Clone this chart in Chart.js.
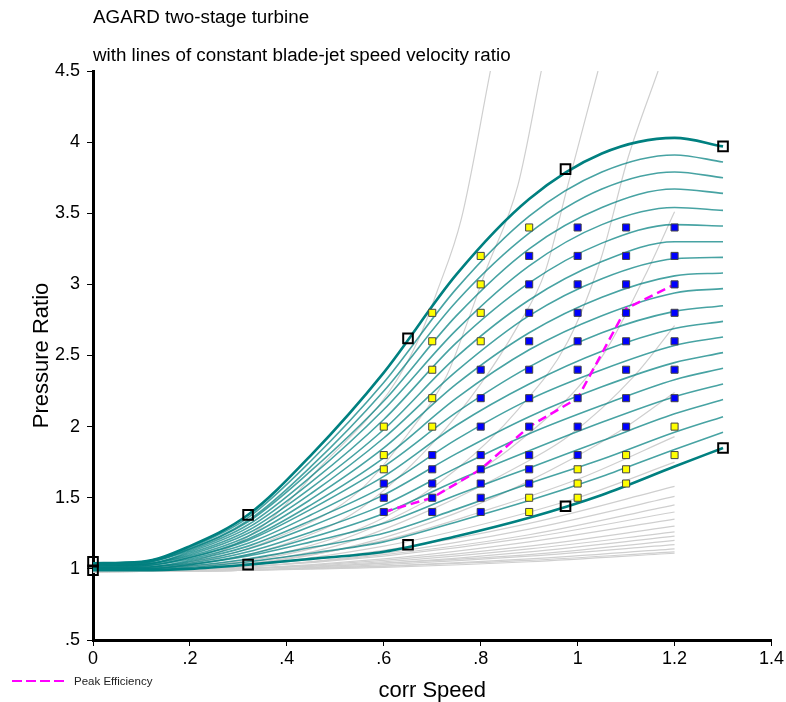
<!DOCTYPE html>
<html>
<head>
<meta charset="utf-8">
<title>AGARD two-stage turbine</title>
<script src="https://cdn.jsdelivr.net/npm/chart.js@4.4.1/dist/chart.umd.min.js"></script>
<style>
  html, body { margin: 0; padding: 0; background: #fff; }
  #turbineMap { display: block; }
</style>
</head>
<body>
<canvas id="turbineMap" width="786" height="702"></canvas>
<script>
// corr speed positions shared by the teal map lines
const speedGrid = [0, 0.1, 0.2, 0.32, 0.45, 0.6, 0.75, 0.9, 1.05, 1.2, 1.3];

// outer map limits
const upperLine = [1.04, 1.05, 1.16, 1.38, 1.80, 2.38, 3.07, 3.60, 3.92, 4.03, 3.97];
const lowerLine = [0.99, 0.99, 1.00, 1.03, 1.07, 1.12, 1.23, 1.36, 1.52, 1.72, 1.85];

// lines in between, top to bottom
const mapLines = [
  [1.04, 1.05, 1.15, 1.36, 1.76, 2.31, 2.97, 3.48, 3.79, 3.91, 3.86],
  [1.03, 1.04, 1.14, 1.34, 1.72, 2.25, 2.88, 3.36, 3.67, 3.79, 3.75],
  [1.03, 1.04, 1.14, 1.33, 1.69, 2.18, 2.78, 3.25, 3.54, 3.67, 3.64],
  [1.03, 1.04, 1.13, 1.31, 1.65, 2.12, 2.68, 3.13, 3.42, 3.54, 3.52],
  [1.03, 1.03, 1.12, 1.29, 1.61, 2.05, 2.59, 3.01, 3.29, 3.42, 3.41],
  [1.02, 1.03, 1.11, 1.27, 1.57, 1.98, 2.49, 2.89, 3.16, 3.30, 3.30],
  [1.02, 1.03, 1.10, 1.25, 1.53, 1.92, 2.39, 2.78, 3.04, 3.18, 3.19],
  [1.02, 1.03, 1.09, 1.23, 1.49, 1.85, 2.30, 2.66, 2.91, 3.06, 3.08],
  [1.02, 1.02, 1.08, 1.21, 1.45, 1.78, 2.20, 2.54, 2.78, 2.94, 2.97],
  [1.01, 1.02, 1.08, 1.20, 1.42, 1.72, 2.10, 2.42, 2.66, 2.81, 2.85],
  [1.01, 1.02, 1.07, 1.18, 1.38, 1.65, 2.01, 2.30, 2.53, 2.69, 2.74],
  [1.01, 1.01, 1.06, 1.16, 1.34, 1.58, 1.91, 2.19, 2.40, 2.57, 2.63],
  [1.01, 1.01, 1.05, 1.14, 1.30, 1.52, 1.81, 2.07, 2.28, 2.45, 2.52],
  [1.00, 1.01, 1.04, 1.12, 1.26, 1.45, 1.71, 1.95, 2.15, 2.33, 2.41],
  [1.00, 1.00, 1.03, 1.10, 1.22, 1.39, 1.62, 1.83, 2.03, 2.21, 2.30],
  [1.00, 1.00, 1.03, 1.09, 1.19, 1.32, 1.52, 1.71, 1.90, 2.09, 2.19],
  [1.00, 1.00, 1.02, 1.07, 1.15, 1.25, 1.42, 1.60, 1.77, 1.96, 2.07],
  [0.99, 0.99, 1.01, 1.05, 1.11, 1.19, 1.33, 1.48, 1.65, 1.84, 1.96]
];

// lines of constant blade-jet speed velocity ratio, [speed, pressure ratio]
const ratioLines = [
  [[0, 1.0], [0.2, 1.05], [0.35, 1.3], [0.47, 1.72], [0.61, 2.24], [0.67, 2.6], [0.71, 2.95], [0.76, 3.46], [0.82, 4.5]],
  [[0, 1.0], [0.2, 1.04], [0.4, 1.25], [0.55, 1.55], [0.65, 1.95], [0.73, 2.36], [0.77, 2.71], [0.81, 3.09], [0.877, 3.7], [0.925, 4.5]],
  [[0, 1.0], [0.2, 1.03], [0.4, 1.18], [0.55, 1.42], [0.7, 1.88], [0.8, 2.3], [0.877, 2.71], [0.933, 3.09], [0.98, 3.7], [1.042, 4.5]],
  [[0, 1.0], [0.2, 1.02], [0.4, 1.12], [0.6, 1.36], [0.75, 1.7], [0.877, 2.12], [0.98, 2.6], [1.048, 3.18], [1.104, 3.89], [1.166, 4.5]],
  [[0, 1.0], [0.3, 1.05], [0.5, 1.19], [0.7, 1.5], [0.877, 1.89], [1.048, 2.48], [1.139, 3.06], [1.2, 3.51]],
  [[0, 1.0], [0.3, 1.04], [0.5, 1.16], [0.7, 1.42], [0.877, 1.72], [0.98, 1.93], [1.118, 2.36], [1.2, 2.71]],
  [[0, 1.0], [0.3, 1.03], [0.5, 1.13], [0.7, 1.33], [0.877, 1.58], [1.083, 1.96], [1.2, 2.24]],
  [[0, 0.99], [0.3, 1.03], [0.6, 1.2], [0.8, 1.4], [1.0, 1.63], [1.2, 1.93]],
  [[0, 0.99], [0.3, 1.02], [0.6, 1.16], [0.8, 1.31], [1.0, 1.5], [1.2, 1.75]]
];

// low-pressure fan of the same lines below the map
const fanSpeed = [0, 0.3, 0.6, 0.9, 1.2];
const fanLines = [
  [0.98, 1.02, 1.13, 1.32, 1.58],
  [0.98, 1.01, 1.11, 1.28, 1.51],
  [0.98, 1.01, 1.10, 1.24, 1.45],
  [0.98, 1.01, 1.09, 1.22, 1.40],
  [0.98, 1.00, 1.07, 1.19, 1.35],
  [0.98, 1.00, 1.06, 1.16, 1.30],
  [0.98, 1.00, 1.05, 1.14, 1.26],
  [0.98, 1.00, 1.04, 1.12, 1.23],
  [0.98, 0.99, 1.04, 1.10, 1.20],
  [0.98, 0.99, 1.03, 1.09, 1.17],
  [0.98, 0.99, 1.02, 1.07, 1.14],
  [0.98, 0.99, 1.02, 1.06, 1.12],
  [0.98, 0.99, 1.01, 1.05, 1.11]
];

// measured map points
const yellowSpeed = [0.6, 0.6, 0.6, 0.7, 0.7, 0.7, 0.7, 0.7, 0.8, 0.8, 0.8, 0.8, 0.9, 0.9, 0.9, 1.0, 1.0, 1.0, 1.1, 1.1, 1.1, 1.2, 1.2];
const yellowPR    = [2.0, 1.8, 1.7, 2.8, 2.6, 2.4, 2.2, 2.0, 3.2, 3.0, 2.8, 2.6, 3.4, 1.5, 1.4, 1.7, 1.6, 1.5, 1.8, 1.7, 1.6, 2.0, 1.8];
const blueSpeed = [0.6, 0.6, 0.6,
  0.7, 0.7, 0.7, 0.7, 0.7,
  0.8, 0.8, 0.8, 0.8, 0.8, 0.8, 0.8, 0.8,
  0.9, 0.9, 0.9, 0.9, 0.9, 0.9, 0.9, 0.9, 0.9, 0.9,
  1.0, 1.0, 1.0, 1.0, 1.0, 1.0, 1.0, 1.0, 1.0,
  1.1, 1.1, 1.1, 1.1, 1.1, 1.1, 1.1, 1.1,
  1.2, 1.2, 1.2, 1.2, 1.2, 1.2, 1.2];
const bluePR = [1.6, 1.5, 1.4,
  1.8, 1.7, 1.6, 1.5, 1.4,
  2.4, 2.2, 2.0, 1.8, 1.7, 1.6, 1.5, 1.4,
  3.2, 3.0, 2.8, 2.6, 2.4, 2.2, 2.0, 1.8, 1.7, 1.6,
  3.4, 3.2, 3.0, 2.8, 2.6, 2.4, 2.2, 2.0, 1.8,
  3.4, 3.2, 3.0, 2.8, 2.6, 2.4, 2.2, 2.0,
  3.4, 3.2, 3.0, 2.8, 2.6, 2.4, 2.2];

// corner points of the map
const limitSpeed = [0, 0.32, 0.65, 0.975, 1.3, 0, 0.32, 0.65, 0.975, 1.3];
const limitPR    = [1.05, 1.38, 2.62, 3.81, 3.97, 0.99, 1.03, 1.17, 1.44, 1.85];

// peak efficiency
const peakSpeed = [0.6, 0.7, 0.8, 0.9, 1.0, 1.1, 1.2];
const peakPR    = [1.4, 1.5, 1.7, 2.0, 2.2, 2.83, 3.0];

const xTickLabels = ['0', '.2', '.4', '.6', '.8', '1', '1.2', '1.4'];
const yTickLabels = ['.5', '1', '1.5', '2', '2.5', '3', '3.5', '4', '4.5'];

const FONT = "'Liberation Sans', Arial, sans-serif";

function toPoints(xs, ys) {
  return xs.map((x, i) => ({ x: x, y: ys[i] }));
}

const datasets = [];

datasets.push({
  label: 'yellow', data: toPoints(yellowSpeed, yellowPR), order: 1,
  pointStyle: 'rect', pointRadius: 5, backgroundColor: '#ffff00', borderColor: '#444444', pointBorderWidth: 1
});
datasets.push({
  label: 'blue', data: toPoints(blueSpeed, bluePR), order: 1,
  pointStyle: 'rect', pointRadius: 5, backgroundColor: '#0000ff', borderColor: '#444444', pointBorderWidth: 1
});
datasets.push({
  label: 'limits', data: toPoints(limitSpeed, limitPR), order: 2, clip: false,
  pointStyle: 'rect', pointRadius: 6.8, backgroundColor: 'rgba(255,255,255,0)', borderColor: '#000000', pointBorderWidth: 2
});
datasets.push({
  label: 'Peak Efficiency', data: toPoints(peakSpeed, peakPR), order: 3,
  showLine: true, pointRadius: 0, borderColor: '#ff00ff', borderWidth: 2.5, borderDash: [9, 5]
});
datasets.push({
  label: 'upper', data: toPoints(speedGrid, upperLine), order: 4,
  showLine: true, pointRadius: 0, borderColor: '#008080', borderWidth: 2.6, cubicInterpolationMode: 'monotone'
});
datasets.push({
  label: 'lower', data: toPoints(speedGrid, lowerLine), order: 4,
  showLine: true, pointRadius: 0, borderColor: '#008080', borderWidth: 2.6, cubicInterpolationMode: 'monotone'
});
mapLines.forEach((row, i) => {
  datasets.push({
    label: 'line' + i, data: toPoints(speedGrid, row), order: 5,
    showLine: true, pointRadius: 0, borderColor: 'rgba(0,128,128,0.72)', borderWidth: 1.6, cubicInterpolationMode: 'monotone'
  });
});
ratioLines.forEach((pts, i) => {
  datasets.push({
    label: 'ratio' + i, data: pts.map(p => ({ x: p[0], y: p[1] })), order: 6,
    showLine: true, pointRadius: 0, borderColor: '#cfcfcf', borderWidth: 1.2, cubicInterpolationMode: 'monotone'
  });
});
fanLines.forEach((row, i) => {
  datasets.push({
    label: 'fan' + i, data: toPoints(fanSpeed, row), order: 6,
    showLine: true, pointRadius: 0, borderColor: '#cfcfcf', borderWidth: 1.2, cubicInterpolationMode: 'monotone'
  });
});

// titles top-left and the little legend bottom-left
const annotations = {
  id: 'annotations',
  afterDraw(chart) {
    const ctx = chart.ctx;
    const left = chart.chartArea.left;
    ctx.save();
    ctx.fillStyle = '#000';
    ctx.textAlign = 'left';
    ctx.textBaseline = 'alphabetic';
    ctx.font = '18.8px ' + FONT;
    ctx.fillText('AGARD two-stage turbine', left, 23);
    ctx.fillText('with lines of constant blade-jet speed velocity ratio', left, 61);

    ctx.strokeStyle = '#ff00ff';
    ctx.lineWidth = 2;
    ctx.setLineDash([10, 4]);
    ctx.beginPath();
    ctx.moveTo(12, 681);
    ctx.lineTo(65, 681);
    ctx.stroke();
    ctx.setLineDash([]);
    ctx.fillStyle = '#222';
    ctx.font = '11.5px ' + FONT;
    ctx.textBaseline = 'middle';
    ctx.fillText('Peak Efficiency', 74, 682);
    ctx.restore();
  }
};

new Chart(document.getElementById('turbineMap'), {
  type: 'scatter',
  data: { datasets: datasets },
  options: {
    responsive: false,
    animation: false,
    devicePixelRatio: 1,
    layout: { padding: { top: 71, right: 12, left: 0, bottom: 0 } },
    plugins: {
      legend: { display: false },
      tooltip: { enabled: false }
    },
    scales: {
      x: {
        type: 'linear',
        min: 0,
        max: 1.4,
        afterFit: scale => { scale.height = 62; },
        ticks: {
          stepSize: 0.2,
          padding: 2,
          color: '#000',
          font: { family: FONT, size: 18 },
          callback: (value, index) => xTickLabels[index]
        },
        grid: { drawOnChartArea: false, drawTicks: true, tickLength: 6, color: '#000', lineWidth: 1 },
        border: { display: true, color: '#000', width: 3 },
        title: {
          display: true,
          text: 'corr Speed',
          color: '#000',
          font: { family: FONT, size: 22, lineHeight: 1 },
          padding: { top: 0, bottom: 0 }
        }
      },
      y: {
        type: 'linear',
        min: 0.5,
        max: 4.5,
        afterFit: scale => { scale.width = 93; },
        ticks: {
          stepSize: 0.5,
          padding: 7,
          color: '#000',
          font: { family: FONT, size: 18 },
          callback: (value, index) => yTickLabels[index]
        },
        grid: { drawOnChartArea: false, drawTicks: true, tickLength: 6, color: '#000', lineWidth: 1 },
        border: { display: true, color: '#000', width: 3 },
        title: {
          display: true,
          text: 'Pressure Ratio',
          color: '#000',
          font: { family: FONT, size: 22, lineHeight: 1 },
          padding: { top: 31, bottom: 0 }
        }
      }
    }
  },
  plugins: [annotations]
});
</script>
</body>
</html>
